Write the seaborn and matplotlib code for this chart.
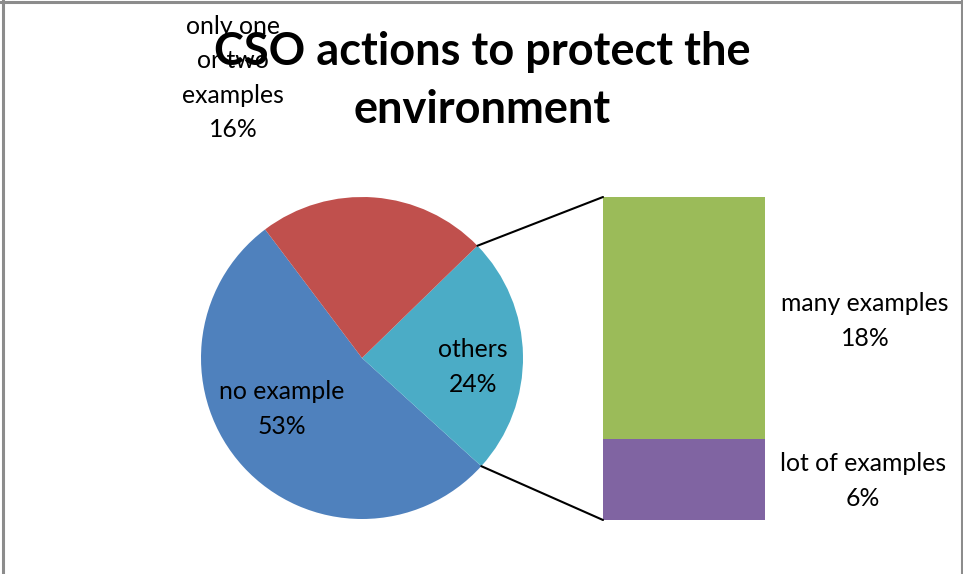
import matplotlib
matplotlib.use("Agg")
import matplotlib.pyplot as plt
from matplotlib.patches import ConnectionPatch
from matplotlib.lines import Line2D
import seaborn as sns
import pandas as pd
import numpy as np

sns.set_theme(style="white")
plt.rcParams['font.family'] = ['Lato', 'DejaVu Sans']
plt.rcParams['text.color'] = 'black'

# ---- data ----
title = "CSO actions to protect the\nenvironment"
pie_categories = ["no example", "others", "only one\nor two\nexamples"]
pie_values = [53, 24, 23]          # wedge sizes as drawn
pie_labels_pct = ["53%", "24%", "16%"]   # percentages as printed
pie_colors = ["#4F81BD", "#4BACC6", "#C0504D"]

bar_categories = ["lot of examples", "many examples"]
bar_values = [6, 18]
bar_colors = ["#8064A2", "#9BBB59"]

W, H = 963, 574
fig = plt.figure(figsize=(W / 100, H / 100), dpi=100)
fig.patch.set_facecolor("white")

# border
for xs, ys in [([2.5, 2.5], [0, H]), ([0, W], [1.5, 1.5]), ([961.5, 961.5], [0, H])]:
    fig.add_artist(Line2D([x / W for x in xs], [1 - y / H for y in ys],
                          color="#8c8c8c", lw=2.2, transform=fig.transFigure))

# ---- pie ----
cx, cy, r = 362, 358, 161
ax_pie = fig.add_axes([(cx - r) / W, (H - cy - r) / H, 2 * r / W, 2 * r / H])
wedges, _ = ax_pie.pie(pie_values, colors=pie_colors, startangle=127,
                       counterclock=True, radius=1,
                       wedgeprops=dict(linewidth=0))
ax_pie.set_xlim(-1, 1)
ax_pie.set_ylim(-1, 1)
ax_pie.set_aspect("equal")
ax_pie.axis("off")

fs = 17.8
ls = 1.6
fig.text(282 / W, 1 - 409 / H, f"{pie_categories[0]}\n{pie_labels_pct[0]}",
         ha="center", va="center", fontsize=fs, linespacing=ls, color="black")
fig.text(473 / W, 1 - 367 / H, f"{pie_categories[1]}\n{pie_labels_pct[1]}",
         ha="center", va="center", fontsize=fs, linespacing=ls, color="black")
fig.text(233 / W, 1 - 78 / H, f"{pie_categories[2]}\n{pie_labels_pct[2]}",
         ha="center", va="center", fontsize=fs, linespacing=ls, color="black")

# ---- stacked bar ----
bx0, bx1, by0, by1 = 603, 765, 197, 520
ax_bar = fig.add_axes([bx0 / W, (H - by1) / H, (bx1 - bx0) / W, (by1 - by0) / H])
total = sum(bar_values)
df_total = pd.DataFrame({"x": ["stack"], "v": [total]})
df_bottom = pd.DataFrame({"x": ["stack"], "v": [bar_values[0]]})
sns.barplot(data=df_total, x="x", y="v", color=bar_colors[1], width=1.0,
            saturation=1, ax=ax_bar, linewidth=0)
sns.barplot(data=df_bottom, x="x", y="v", color=bar_colors[0], width=1.0,
            saturation=1, ax=ax_bar, linewidth=0)
ax_bar.set_xlim(-0.5, 0.5)
ax_bar.set_ylim(0, total)
ax_bar.axis("off")

fig.text(865 / W, 1 - 321 / H, f"{bar_categories[1]}\n{bar_values[1]}%",
         ha="center", va="center", fontsize=fs, linespacing=ls, color="black")
fig.text(863 / W, 1 - 481 / H, f"{bar_categories[0]}\n{bar_values[0]}%",
         ha="center", va="center", fontsize=fs, linespacing=ls, color="black")

# ---- connector lines from the "others" wedge ----
w = wedges[1]
for ang, yb in [(w.theta2, total), (w.theta1, 0)]:
    t = np.deg2rad(ang)
    con = ConnectionPatch(xyA=(np.cos(t), np.sin(t)), coordsA=ax_pie.transData,
                          xyB=(-0.5, yb), coordsB=ax_bar.transData,
                          color="black", lw=1.5)
    fig.add_artist(con)

fig.text(482 / W, 1 - 81 / H, title, ha="center", va="center",
         fontsize=32.5, fontweight="bold", linespacing=1.45, color="black")

fig.savefig("out.png", dpi=100, facecolor="white")
